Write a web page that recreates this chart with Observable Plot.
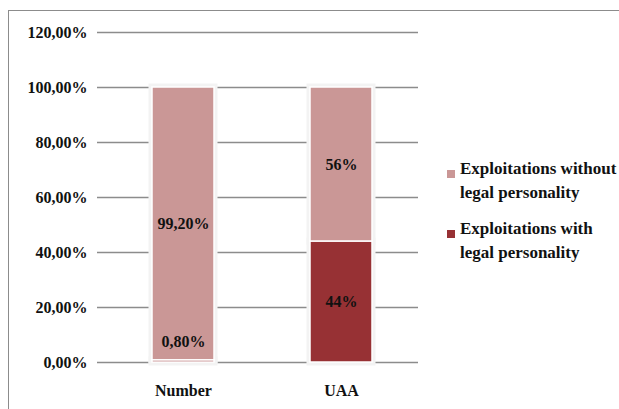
<!DOCTYPE html>
<html>
<head>
<meta charset="utf-8">
<script src="https://cdn.jsdelivr.net/npm/d3@7"></script>
<script src="https://cdn.jsdelivr.net/npm/@observablehq/plot@0.6"></script>
<style>
  html, body { margin: 0; padding: 0; background: #fff; }
  #wrap { position: relative; width: 619px; height: 409px; overflow: hidden; font-family: "Liberation Serif", "Times New Roman", serif; }
  #frame { position: absolute; left: 8px; top: 10px; width: 620px; height: 410px; border-left: 1.5px solid #8c8c8c; border-top: 1.5px solid #8c8c8c; box-sizing: border-box; }
  #chart { position: absolute; left: 9px; top: 11px; }
  #legend { position: absolute; left: 447px; top: 157px; font-weight: bold; font-size: 17px; line-height: 24px; color: #111; }
  .item { position: relative; padding-left: 13px; margin-bottom: 12px; }
  .sw { position: absolute; left: 0; top: 13px; width: 8px; height: 8px; }
</style>
</head>
<body>
<div id="wrap">
  <div id="frame"></div>
  <div id="chart"></div>
  <div id="legend"></div>
</div>
<script>
const categories = ["Number", "UAA"];
const series = ["Exploitations with legal personality", "Exploitations without legal personality"];
const withLegal = [0.8, 44];
const withoutLegal = [99.2, 56];
const labelsWith = ["0,80%", "44%"];
const labelsWithout = ["99,20%", "56%"];
const yTicks = [0, 20, 40, 60, 80, 100, 120];
const colors = ["#973134", "#CA9796"];
const legendOrder = [series[1], series[0]];
const legendText = ["Exploitations without<br>legal personality", "Exploitations with<br>legal personality"];

const data = [];
categories.forEach((c, i) => {
  data.push({cat: c, series: series[0], value: withLegal[i], label: labelsWith[i]});
  data.push({cat: c, series: series[1], value: withoutLegal[i], label: labelsWithout[i]});
});

const chart = Plot.plot({
  width: 420,
  height: 398,
  marginLeft: 88,
  marginRight: 11,
  marginTop: 21,
  marginBottom: 47,
  style: { fontFamily: "Liberation Serif, Times New Roman, serif", background: "transparent", color: "#111" },
  x: { domain: categories, paddingInner: 0.61, paddingOuter: 0.315, align: 0.54, label: null },
  y: { domain: [0, 120], label: null },
  color: { domain: series, range: colors },
  marks: [
    Plot.ruleY(yTicks, { stroke: "#8c8c8c", strokeWidth: 1.3 }),
    Plot.barY(data, Plot.stackY({ x: "cat", y: "value", fill: "#fff", stroke: "#f3f3f3", strokeWidth: 7 })),
    Plot.barY(data, Plot.stackY({ x: "cat", y: "value", fill: "series", stroke: "#fff", strokeWidth: 1.5 })),
    Plot.text(data, Plot.stackY({ x: "cat", y: "value", text: d => d.value >= 5 ? d.label : "", fontSize: 16, fontWeight: "bold", fill: "#111" })),
    Plot.text(data, Plot.stackY({ x: "cat", y: "value", text: d => d.value < 5 ? d.label : "", dy: -20, fontSize: 16, fontWeight: "bold", fill: "#111" })),
    Plot.axisY({ ticks: yTicks, tickSize: 0, tickPadding: 10, tickFormat: d => d.toFixed(2).replace(".", ",") + "%", fontSize: 16, fontWeight: "bold", label: null }),
    Plot.axisX({ tickSize: 0, tickPadding: 22, fontSize: 16, fontWeight: "bold", label: null })
  ]
});
document.getElementById("chart").appendChild(chart);

const legend = document.getElementById("legend");
legendOrder.forEach((s, i) => {
  const div = document.createElement("div");
  div.className = "item";
  const sw = document.createElement("span");
  sw.className = "sw";
  sw.style.background = colors[series.indexOf(s)];
  div.appendChild(sw);
  const t = document.createElement("span");
  t.innerHTML = legendText[i];
  div.appendChild(t);
  legend.appendChild(div);
});
</script>
</body>
</html>
